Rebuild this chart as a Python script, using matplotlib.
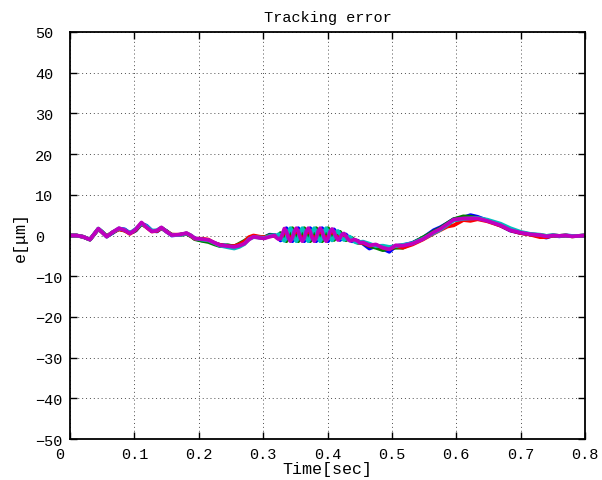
import numpy as np
import matplotlib
matplotlib.use("Agg")
import matplotlib.pyplot as plt
import matplotlib.transforms as mtransforms

# time samples [sec]
t_early = [0.000, 0.010, 0.020, 0.031, 0.044, 0.050, 0.057, 0.066, 0.076, 0.085,
           0.093, 0.102, 0.111, 0.119, 0.127, 0.135, 0.142, 0.150, 0.158, 0.170,
           0.181, 0.188, 0.194, 0.205, 0.215, 0.225, 0.233, 0.245, 0.255, 0.263,
           0.271, 0.278, 0.285, 0.295, 0.302, 0.310, 0.318]
t_osc = [0.3207, 0.3238, 0.3269, 0.3299, 0.3330, 0.3361, 0.3392, 0.3423, 0.3454, 0.3484,
         0.3515, 0.3546, 0.3577, 0.3608, 0.3639, 0.3669, 0.3700, 0.3731, 0.3762, 0.3793,
         0.3824, 0.3854, 0.3885, 0.3916, 0.3947, 0.3978, 0.4009, 0.4039, 0.4070, 0.4101,
         0.4132, 0.4163, 0.4194, 0.4224, 0.4255, 0.4286, 0.4317, 0.4348, 0.4379, 0.4409,
         0.4440, 0.4471, 0.4502]
t_late = [0.455, 0.465, 0.475, 0.486, 0.496, 0.506, 0.517, 0.532, 0.548, 0.565,
          0.575, 0.586, 0.596, 0.611, 0.622, 0.633, 0.648, 0.669, 0.684, 0.700,
          0.715, 0.730, 0.740, 0.750, 0.760, 0.770, 0.780, 0.790, 0.800]

# tracking error [um], one list per run
e_blue = [0.0, 0.0, -0.3, -1.0, 1.6, 0.8, -0.2, 0.6, 1.7, 1.5, 0.6, 1.2, 2.9, 2.4, 1.2, 1.0, 1.8, 1.1, 0.0, 0.2,
          0.5, -0.1, -0.8, -1.2, -1.3, -1.9, -2.3, -2.5, -2.6, -2.4, -1.8, -0.8, -0.2, -0.4, -0.5, 0.2, 0.1,
          -0.1, -0.6, -1.2, -0.9, 0.95, 1.8, 1.0, -0.6, -1.4, -0.6, 1.0, 1.8, 1.0, -0.6, -1.4, -0.6, 1.0, 1.8,
          1.0, -0.6, -1.4, -0.6, 1.0, 1.8, 1.0, -0.6, -1.4, -0.55, 0.9, 1.5, 0.8, -0.55, -1.1, -0.65, 0.1, 0.25,
          -0.3, -1.05, -1.4, -1.4, -1.25, -1.3, -1.6,
          -2.0, -3.2, -2.6, -3.3, -4.0, -2.6, -2.4, -1.8, -0.6, 1.3, 2.0, 3.0, 4.0, 4.4, 5.0, 4.6, 3.7, 2.4, 1.2,
          0.6, 0.3, -0.2, -0.5, 0.0, -0.2, 0.0, -0.1, -0.1, 0.0]
e_green = [0.0, 0.0, -0.3, -1.0, 1.6, 0.9, -0.2, 0.7, 1.6, 1.2, 0.6, 1.3, 2.8, 2.1, 1.1, 1.1, 1.9, 1.0, 0.2, 0.1,
           0.4, -0.2, -0.9, -1.3, -1.6, -2.2, -2.6, -2.4, -2.7, -2.0, -1.3, -0.6, -0.2, -0.5, -0.4, 0.1, 0.0,
           -0.5, 0.0, 0.6, 0.3, -0.55, -1.4, -0.6, 1.0, 1.8, 1.0, -0.6, -1.4, -0.6, 1.0, 1.8, 1.0, -0.6, -1.4,
           -0.6, 1.0, 1.8, 1.0, -0.6, -1.4, -0.6, 1.0, 1.8, 0.95, -0.5, -1.1, -0.4, 0.55, 0.9, 0.25, -0.7, -1.15,
           -0.9, -0.55, -0.6, -1.0, -1.55, -1.8, -1.8,
           -1.9, -2.6, -3.0, -3.6, -3.2, -3.0, -3.0, -1.9, -0.5, 1.0, 1.8, 3.0, 4.0, 4.7, 4.6, 4.3, 3.7, 2.6, 1.4,
           0.7, 0.3, 0.1, -0.1, 0.0, -0.1, 0.0, -0.2, -0.1, 0.0]
e_red = [0.0, 0.0, -0.3, -1.0, 1.6, 0.8, -0.2, 0.8, 1.5, 1.2, 0.4, 1.4, 3.0, 2.0, 1.0, 1.1, 1.8, 1.0, 0.2, 0.2,
         0.5, -0.1, -0.8, -0.8, -1.0, -1.9, -2.3, -2.7, -2.6, -2.2, -1.5, -0.4, 0.0, -0.3, -0.4, -0.2, -0.1,
         -0.4, -0.6, -0.5, 0.0, 0.95, 0.6, -0.2, -0.6, -0.2, 0.6, 1.0, 0.6, -0.2, -0.6, -0.2, 0.6, 1.0, 0.6,
         -0.2, -0.6, -0.2, 0.6, 1.0, 0.6, -0.2, -0.6, -0.2, 0.6, 0.9, 0.5, -0.1, -0.55, -0.35, 0.0, 0.1, -0.3,
         -0.75, -1.05, -1.1, -1.1, -1.25, -1.5, -1.75,
         -1.8, -2.5, -2.3, -3.0, -3.3, -2.6, -3.0, -2.2, -1.0, 0.5, 1.3, 2.2, 2.5, 3.8, 3.6, 4.0, 3.5, 2.4, 1.3,
         0.6, 0.2, -0.4, -0.4, 0.0, -0.1, 0.0, -0.2, -0.1, 0.0]
e_cyan = [0.0, 0.0, -0.3, -1.0, 1.7, 0.9, -0.3, 0.8, 1.7, 1.4, 0.6, 1.6, 2.9, 2.3, 1.2, 1.3, 1.9, 0.9, 0.1, 0.1,
          0.5, 0.0, -0.7, -1.0, -1.2, -1.9, -2.5, -2.9, -3.2, -2.8, -2.1, -0.9, -0.4, -0.5, -0.6, -0.1, 0.1,
          -0.1, 0.3, 0.15, -0.9, -1.3, -0.6, 1.0, 1.8, 1.0, -0.6, -1.4, -0.6, 1.0, 1.8, 1.0, -0.6, -1.4, -0.6,
          1.0, 1.8, 1.0, -0.6, -1.4, -0.6, 1.0, 1.8, 1.0, -0.55, -1.2, -0.45, 0.8, 1.1, 0.4, -0.65, -1.1, -0.8,
          -0.3, -0.3, -0.8, -1.4, -1.7, -1.7, -1.6,
          -1.5, -2.0, -2.6, -2.5, -2.8, -2.6, -2.3, -1.9, -0.8, 0.6, 1.4, 2.6, 3.7, 4.1, 4.2, 4.3, 3.9, 2.9, 1.8,
          0.9, 0.4, 0.2, -0.1, 0.1, -0.1, 0.0, -0.1, -0.1, 0.0]
e_magenta = [0.0, 0.0, -0.3, -1.0, 1.7, 0.8, -0.3, 0.8, 1.8, 1.3, 0.5, 1.5, 3.2, 2.0, 1.0, 1.2, 2.0, 0.9, 0.1, 0.2,
             0.6, 0.0, -0.7, -0.9, -1.1, -1.8, -2.4, -2.6, -2.8, -2.5, -2.0, -1.0, -0.3, -0.6, -0.7, -0.3, 0.0,
             -0.5, -0.9, -0.8, 0.3, 1.7, 1.0, -0.6, -1.4, -0.6, 1.0, 1.8, 1.0, -0.6, -1.4, -0.6, 1.0, 1.8, 1.0,
             -0.6, -1.4, -0.6, 1.0, 1.8, 1.0, -0.6, -1.4, -0.6, 0.95, 1.6, 0.85, -0.4, -1.1, -0.6, 0.25, 0.5, -0.1,
             -0.9, -1.3, -1.2, -1.0, -1.1, -1.4, -1.8,
             -1.7, -2.4, -2.2, -3.0, -3.4, -2.4, -2.5, -2.0, -0.9, 0.8, 1.6, 2.8, 3.9, 4.2, 4.2, 4.2, 3.6, 2.5, 1.3,
             0.7, 0.3, 0.1, -0.2, 0.0, -0.1, 0.0, -0.2, -0.1, 0.0]

xtick_labels = ['0', '0.1', '0.2', '0.3', '0.4', '0.5', '0.6', '0.7', '0.8']
ytick_labels = ['\u221250', '\u221240', '\u221230', '\u221220', '\u221210', '0',
                '10', '20', '30', '40', '50']

t = np.array(t_early + t_osc + t_late)

plt.rcParams['font.family'] = ['Liberation Mono', 'DejaVu Sans Mono']
plt.rcParams['font.size'] = 11

fig = plt.figure(figsize=(6.02, 4.81), dpi=100)
ax = fig.add_axes([0.1163, 0.0852, 0.8555, 0.8462])

for e, c in [(e_blue, (0, 0, 1)), (e_green, (0, 0.5, 0)), (e_red, (1, 0, 0)),
             (e_cyan, (0, 0.75, 0.75)), (e_magenta, (0.75, 0, 0.75))]:
    ax.plot(t, e, color=c, lw=2.7, solid_joinstyle='round', solid_capstyle='round')

ax.set_xlim(0, 0.8)
ax.set_ylim(-50, 50)
ax.set_xticks(np.arange(0, 0.81, 0.1))
ax.set_xticklabels(xtick_labels)
ax.set_yticks(np.arange(-50, 51, 10))
ax.set_yticklabels(ytick_labels, ha='left')
ax.grid(True, linestyle=(0, (1, 3)), color='0.3', lw=0.7)
ax.tick_params(direction='in', length=5, width=1, top=True, right=True)
ax.tick_params(axis='x', pad=6)
ax.tick_params(axis='y', pad=25)
for s in ax.spines.values():
    s.set_linewidth(1.3)

# MATLAB places the lone "0" like a 3-character label
lab0 = ax.get_xticklabels()[0]
lab0.set_transform(lab0.get_transform() +
                   mtransforms.ScaledTranslation(-10 / 100, 0, fig.dpi_scale_trans))

ax.set_title('Tracking error', fontsize=11, pad=8)
ax.set_xlabel('Time[sec]', fontsize=12, labelpad=0)
ax.set_ylabel('e[μm]', fontsize=12, labelpad=5)

fig.savefig('out.png', dpi=100)
